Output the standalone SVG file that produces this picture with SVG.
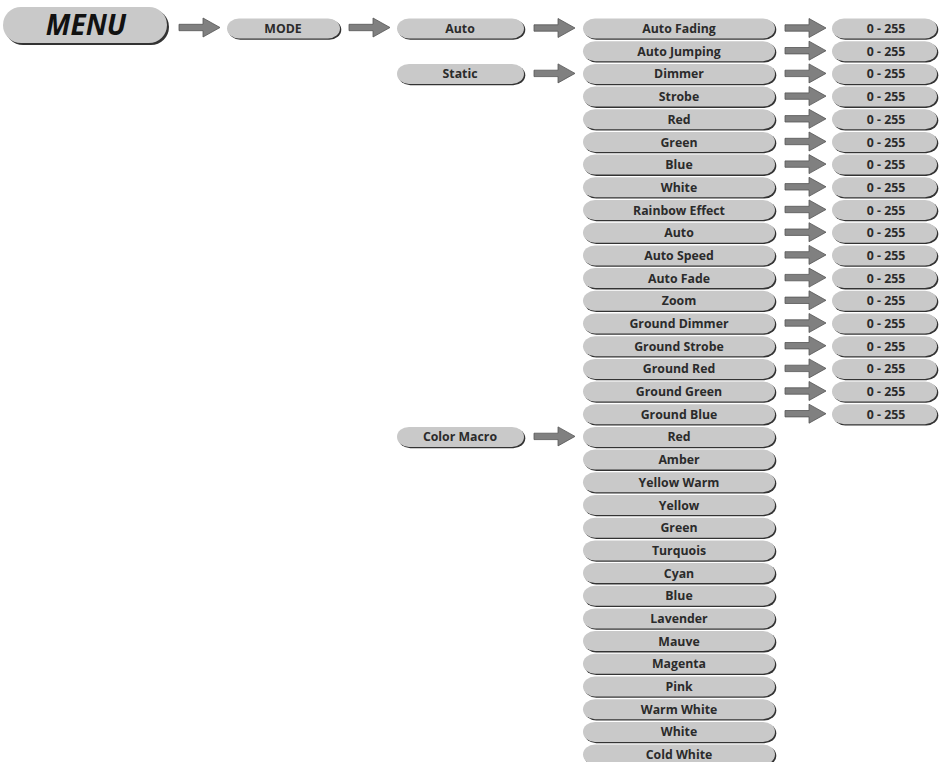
<svg xmlns="http://www.w3.org/2000/svg" xmlns:xlink="http://www.w3.org/1999/xlink" width="939" height="762" viewBox="0 0 939 762">
<style>
.sh{fill:#333}
.bx{fill:#c9c9c9}
.t{font-family:"Open Sans","Noto Sans","Liberation Sans",sans-serif;font-weight:700;font-size:12.3px;fill:#2b2b2b;text-anchor:middle}
.menu{font-family:"Open Sans","Noto Sans","Liberation Sans",sans-serif;font-weight:700;font-style:italic;font-size:28px;fill:#111;text-anchor:middle}
.ar{fill:#808080;stroke:#555;stroke-width:0.8;stroke-linejoin:miter}
</style>
<defs>
<path id="arr" class="ar" d="M-41,-3.2 H-17 V-9.5 L0,0 L-17,9.5 V3.2 H-41 Z"/>
<g id="b3"><rect class="sh" x="1.3" y="-8.7" width="192" height="20" rx="12" ry="10"/><rect class="bx" x="0" y="-10" width="192" height="20" rx="12" ry="10"/></g>
<g id="bv"><rect class="sh" x="1.3" y="-8.7" width="105" height="20" rx="12" ry="10"/><rect class="bx" x="0" y="-10" width="105" height="20" rx="12" ry="10"/></g>
<g id="b2"><rect class="sh" x="1.3" y="-8.7" width="127" height="20" rx="12" ry="10"/><rect class="bx" x="0" y="-10" width="127" height="20" rx="12" ry="10"/></g>
</defs>
<rect width="939" height="762" fill="#fff"/>

<g id="connectors">
<use xlink:href="#arr" x="220" y="27.5"/>
<use xlink:href="#arr" x="390" y="27.5"/>
<use xlink:href="#arr" x="575" y="28"/>
<use xlink:href="#arr" x="575" y="73.4"/>
<use xlink:href="#arr" x="575" y="436.4"/>
<use xlink:href="#arr" x="826" y="28"/>
<use xlink:href="#arr" x="826" y="50.7"/>
<use xlink:href="#arr" x="826" y="73.4"/>
<use xlink:href="#arr" x="826" y="96.1"/>
<use xlink:href="#arr" x="826" y="118.8"/>
<use xlink:href="#arr" x="826" y="141.5"/>
<use xlink:href="#arr" x="826" y="164.1"/>
<use xlink:href="#arr" x="826" y="186.8"/>
<use xlink:href="#arr" x="826" y="209.5"/>
<use xlink:href="#arr" x="826" y="232.2"/>
<use xlink:href="#arr" x="826" y="254.9"/>
<use xlink:href="#arr" x="826" y="277.6"/>
<use xlink:href="#arr" x="826" y="300.3"/>
<use xlink:href="#arr" x="826" y="323"/>
<use xlink:href="#arr" x="826" y="345.7"/>
<use xlink:href="#arr" x="826" y="368.4"/>
<use xlink:href="#arr" x="826" y="391"/>
<use xlink:href="#arr" x="826" y="413.7"/>
</g>

<g id="menu">
<rect class="sh" x="5" y="9" width="164" height="36" rx="18" ry="18"/>
<rect class="bx" x="3" y="7" width="164" height="36" rx="18" ry="18"/>
<text class="menu" x="86" y="35">MENU</text>
</g>
<g id="mode">
<rect class="sh" x="228.3" y="19.8" width="113" height="20" rx="12" ry="10"/>
<rect class="bx" x="227" y="18.5" width="113" height="20" rx="12" ry="10"/>
<text class="t" x="283" y="33">MODE</text>
</g>

<g id="n-auto"><use xlink:href="#b2" x="397" y="28.5"/><text class="t" x="460" y="33">Auto</text></g>
<g id="n-static"><use xlink:href="#b2" x="397" y="73.9"/><text class="t" x="460" y="78.4">Static</text></g>
<g id="n-colormacro"><use xlink:href="#b2" x="397" y="436.9"/><text class="t" x="460" y="441.4">Color Macro</text></g>

<g id="c3-0"><use xlink:href="#b3" x="583" y="28.5"/><text class="t" x="679" y="33">Auto Fading</text></g>
<g id="c3-1"><use xlink:href="#b3" x="583" y="51.2"/><text class="t" x="679" y="55.7">Auto Jumping</text></g>
<g id="c3-2"><use xlink:href="#b3" x="583" y="73.9"/><text class="t" x="679" y="78.4">Dimmer</text></g>
<g id="c3-3"><use xlink:href="#b3" x="583" y="96.6"/><text class="t" x="679" y="101.1">Strobe</text></g>
<g id="c3-4"><use xlink:href="#b3" x="583" y="119.3"/><text class="t" x="679" y="123.8">Red</text></g>
<g id="c3-5"><use xlink:href="#b3" x="583" y="142"/><text class="t" x="679" y="146.5">Green</text></g>
<g id="c3-6"><use xlink:href="#b3" x="583" y="164.6"/><text class="t" x="679" y="169.1">Blue</text></g>
<g id="c3-7"><use xlink:href="#b3" x="583" y="187.3"/><text class="t" x="679" y="191.8">White</text></g>
<g id="c3-8"><use xlink:href="#b3" x="583" y="210"/><text class="t" x="679" y="214.5">Rainbow Effect</text></g>
<g id="c3-9"><use xlink:href="#b3" x="583" y="232.7"/><text class="t" x="679" y="237.2">Auto</text></g>
<g id="c3-10"><use xlink:href="#b3" x="583" y="255.4"/><text class="t" x="679" y="259.9">Auto Speed</text></g>
<g id="c3-11"><use xlink:href="#b3" x="583" y="278.1"/><text class="t" x="679" y="282.6">Auto Fade</text></g>
<g id="c3-12"><use xlink:href="#b3" x="583" y="300.8"/><text class="t" x="679" y="305.3">Zoom</text></g>
<g id="c3-13"><use xlink:href="#b3" x="583" y="323.5"/><text class="t" x="679" y="328">Ground Dimmer</text></g>
<g id="c3-14"><use xlink:href="#b3" x="583" y="346.2"/><text class="t" x="679" y="350.7">Ground Strobe</text></g>
<g id="c3-15"><use xlink:href="#b3" x="583" y="368.9"/><text class="t" x="679" y="373.4">Ground Red</text></g>
<g id="c3-16"><use xlink:href="#b3" x="583" y="391.5"/><text class="t" x="679" y="396">Ground Green</text></g>
<g id="c3-17"><use xlink:href="#b3" x="583" y="414.2"/><text class="t" x="679" y="418.7">Ground Blue</text></g>
<g id="c3-18"><use xlink:href="#b3" x="583" y="436.9"/><text class="t" x="679" y="441.4">Red</text></g>
<g id="c3-19"><use xlink:href="#b3" x="583" y="459.6"/><text class="t" x="679" y="464.1">Amber</text></g>
<g id="c3-20"><use xlink:href="#b3" x="583" y="482.3"/><text class="t" x="679" y="486.8">Yellow Warm</text></g>
<g id="c3-21"><use xlink:href="#b3" x="583" y="505"/><text class="t" x="679" y="509.5">Yellow</text></g>
<g id="c3-22"><use xlink:href="#b3" x="583" y="527.7"/><text class="t" x="679" y="532.2">Green</text></g>
<g id="c3-23"><use xlink:href="#b3" x="583" y="550.4"/><text class="t" x="679" y="554.9">Turquois</text></g>
<g id="c3-24"><use xlink:href="#b3" x="583" y="573.1"/><text class="t" x="679" y="577.6">Cyan</text></g>
<g id="c3-25"><use xlink:href="#b3" x="583" y="595.8"/><text class="t" x="679" y="600.3">Blue</text></g>
<g id="c3-26"><use xlink:href="#b3" x="583" y="618.4"/><text class="t" x="679" y="622.9">Lavender</text></g>
<g id="c3-27"><use xlink:href="#b3" x="583" y="641.1"/><text class="t" x="679" y="645.6">Mauve</text></g>
<g id="c3-28"><use xlink:href="#b3" x="583" y="663.8"/><text class="t" x="679" y="668.3">Magenta</text></g>
<g id="c3-29"><use xlink:href="#b3" x="583" y="686.5"/><text class="t" x="679" y="691">Pink</text></g>
<g id="c3-30"><use xlink:href="#b3" x="583" y="709.2"/><text class="t" x="679" y="713.7">Warm White</text></g>
<g id="c3-31"><use xlink:href="#b3" x="583" y="731.9"/><text class="t" x="679" y="736.4">White</text></g>
<g id="c3-32"><use xlink:href="#b3" x="583" y="754.6"/><text class="t" x="679" y="759.1">Cold White</text></g>

<g id="v-0"><use xlink:href="#bv" x="832" y="28.5"/><text class="t" x="886" y="33">0 - 255</text></g>
<g id="v-1"><use xlink:href="#bv" x="832" y="51.2"/><text class="t" x="886" y="55.7">0 - 255</text></g>
<g id="v-2"><use xlink:href="#bv" x="832" y="73.9"/><text class="t" x="886" y="78.4">0 - 255</text></g>
<g id="v-3"><use xlink:href="#bv" x="832" y="96.6"/><text class="t" x="886" y="101.1">0 - 255</text></g>
<g id="v-4"><use xlink:href="#bv" x="832" y="119.3"/><text class="t" x="886" y="123.8">0 - 255</text></g>
<g id="v-5"><use xlink:href="#bv" x="832" y="142"/><text class="t" x="886" y="146.5">0 - 255</text></g>
<g id="v-6"><use xlink:href="#bv" x="832" y="164.6"/><text class="t" x="886" y="169.1">0 - 255</text></g>
<g id="v-7"><use xlink:href="#bv" x="832" y="187.3"/><text class="t" x="886" y="191.8">0 - 255</text></g>
<g id="v-8"><use xlink:href="#bv" x="832" y="210"/><text class="t" x="886" y="214.5">0 - 255</text></g>
<g id="v-9"><use xlink:href="#bv" x="832" y="232.7"/><text class="t" x="886" y="237.2">0 - 255</text></g>
<g id="v-10"><use xlink:href="#bv" x="832" y="255.4"/><text class="t" x="886" y="259.9">0 - 255</text></g>
<g id="v-11"><use xlink:href="#bv" x="832" y="278.1"/><text class="t" x="886" y="282.6">0 - 255</text></g>
<g id="v-12"><use xlink:href="#bv" x="832" y="300.8"/><text class="t" x="886" y="305.3">0 - 255</text></g>
<g id="v-13"><use xlink:href="#bv" x="832" y="323.5"/><text class="t" x="886" y="328">0 - 255</text></g>
<g id="v-14"><use xlink:href="#bv" x="832" y="346.2"/><text class="t" x="886" y="350.7">0 - 255</text></g>
<g id="v-15"><use xlink:href="#bv" x="832" y="368.9"/><text class="t" x="886" y="373.4">0 - 255</text></g>
<g id="v-16"><use xlink:href="#bv" x="832" y="391.5"/><text class="t" x="886" y="396">0 - 255</text></g>
<g id="v-17"><use xlink:href="#bv" x="832" y="414.2"/><text class="t" x="886" y="418.7">0 - 255</text></g>
</svg>
